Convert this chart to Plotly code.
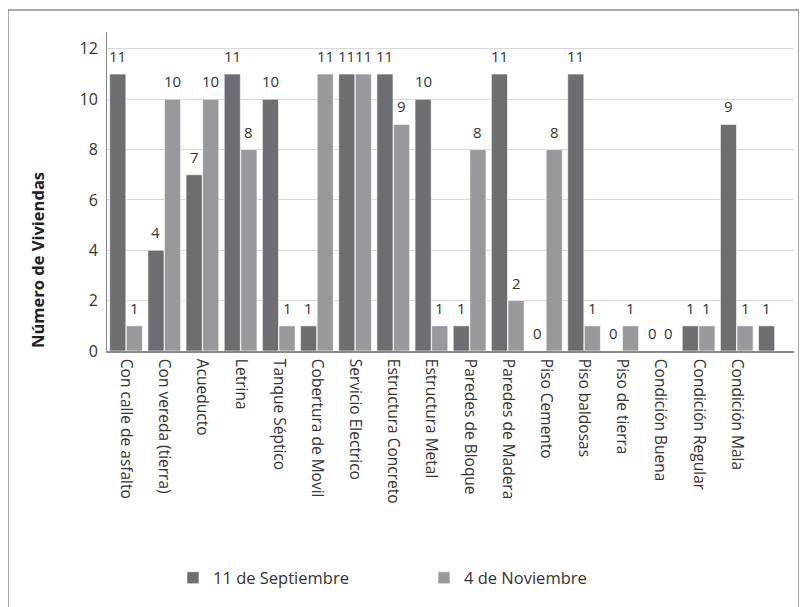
import plotly.graph_objects as go

categories = ["Con calle de asfalto", "Con vereda (tierra)", "Acueducto", "Letrina",
              "Tanque Séptico", "Cobertura de Movil", "Servicio Electrico",
              "Estructura Concreto", "Estructura Metal", "Paredes de Bloque",
              "Paredes de Madera", "Piso Cemento", "Piso baldosas", "Piso de tierra",
              "Condición Buena", "Condición Regular", "Condición Mala", " "]
sep_values = [11, 4, 7, 11, 10, 1, 11, 11, 10, 1, 11, 0, 11, 0, 0, 1, 9, 1]
nov_values = [1, 10, 10, 8, 1, 11, 11, 9, 1, 8, 2, 8, 1, 1, 0, 1, 1, None]
series_names = ["11 de Septiembre", "4 de Noviembre"]
y_ticks = [0, 2, 4, 6, 8, 10, 12]

DARK = "#6d6e71"
LIGHT = "#98999c"
FONT = "Open Sans"
TXT = "#333333"

OFF = 8  # page body margin
W, H = 807 - OFF, 607 - OFF
ML, MR, MT, MB = 107 - OFF, 13, 32 - OFF, 256
PW, PH = W - ML - MR, H - MT - MB

fig = go.Figure()
fig.add_trace(go.Bar(x=categories, y=sep_values, name=series_names[0],
                     marker=dict(color=DARK, line=dict(color="white", width=0.6))))
fig.add_trace(go.Bar(x=categories, y=nov_values, name=series_names[1],
                     marker=dict(color=LIGHT, line=dict(color="white", width=0.6))))

bargap = 0.13
slot = PW / len(categories)
half = slot * (1 - bargap) / 4

annotations = []
for vals, sh in ((sep_values, -half), (nov_values, half)):
    for c, v in zip(categories, vals):
        if v is None:
            continue
        annotations.append(dict(x=c, y=v, xref="x", yref="y", text=str(v),
                                showarrow=False, xshift=sh, yshift=6,
                                yanchor="bottom", font=dict(family=FONT, size=15, color=TXT)))


def px_x(p):
    return (p - OFF - ML) / PW


def px_y(p):
    return (MT + PH - (p - OFF)) / PH


annotations.append(dict(x=px_x(38), y=px_y(260), xref="paper", yref="paper",
                        xanchor="center", yanchor="middle",
                        text="<b>Número de Viviendas</b>", textangle=-90, showarrow=False,
                        font=dict(family=FONT, size=16.5, color="#222222")))

fig.update_layout(
    width=W, height=H,
    margin=dict(l=ML, r=MR, t=MT, b=MB, autoexpand=False),
    paper_bgcolor="white", plot_bgcolor="white",
    barmode="group", bargap=bargap, bargroupgap=0.03,
    font=dict(family=FONT, size=14, color=TXT),
    showlegend=True,
    legend=dict(orientation="h", x=px_x(173), y=px_y(578), xanchor="left", yanchor="middle",
                entrywidth=206, font=dict(family=FONT, size=16.5, color=TXT),
                bgcolor="rgba(0,0,0,0)"),
    annotations=annotations,
    shapes=[dict(type="rect", xref="paper", yref="paper",
                 x0=px_x(8), x1=px_x(799), y0=px_y(620), y1=px_y(10),
                 line=dict(color="#555555", width=1))],
)
fig.update_xaxes(type="category", tickangle=90, showgrid=False,
                 showline=True, linecolor="#8a8a8a", linewidth=1.5,
                 ticks="", ticklabelstandoff=3,
                 tickfont=dict(family=FONT, size=15.5, color=TXT))
fig.update_yaxes(range=[0, 12.67], tickvals=y_ticks, showgrid=True, gridcolor="#d9d9d9",
                 gridwidth=1, showline=True, linecolor="#8a8a8a", linewidth=1,
                 zeroline=False, ticks="", ticklabelstandoff=5,
                 tickfont=dict(family=FONT, size=16, color=TXT))

fig.write_html("out.html")
